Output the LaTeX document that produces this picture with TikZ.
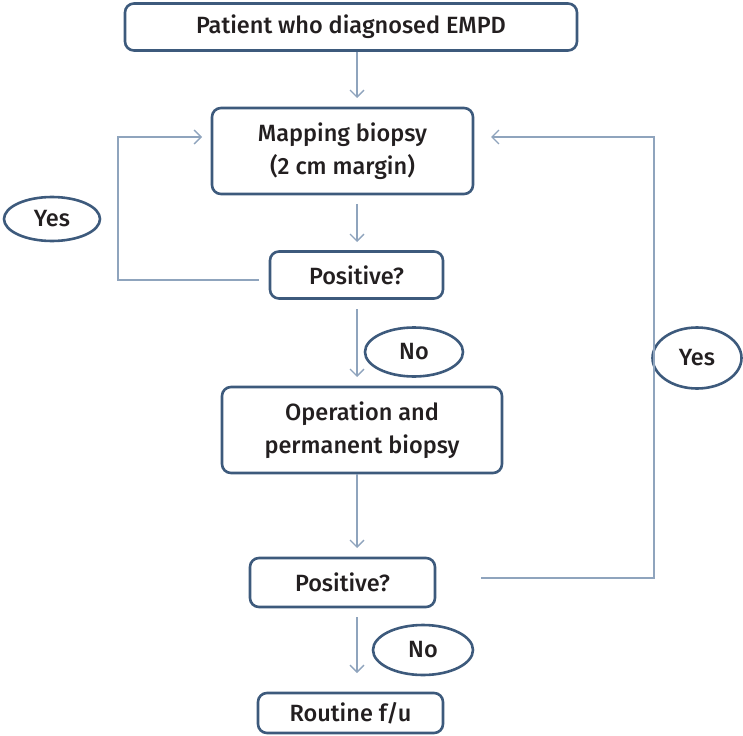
\documentclass[tikz,border=0pt]{standalone}
\usepackage{fontspec}
\setmainfont{Fira Sans}[UprightFont={* Medium}]
\usetikzlibrary{arrows.meta,shapes.geometric}
\definecolor{boxc}{HTML}{3D5A7C}
\definecolor{linec}{HTML}{8FA4BD}
\definecolor{txt}{HTML}{231F20}
\begin{document}
\begin{tikzpicture}[x=1pt,y=-1pt,
  box/.style={draw=boxc,line width=2.6pt,rounded corners=9pt,inner sep=0pt,align=center,font=\fontsize{23.5}{33}\selectfont,text=txt},
  oval/.style={draw=boxc,line width=2.6pt,ellipse,inner sep=0pt,font=\fontsize{23.5}{26}\selectfont,text=txt},
  conn/.style={draw=linec,line width=1.3pt,-{Straight Barb[length=7pt,width=14pt,line width=1.3pt]}},
  line/.style={draw=linec,line width=1.3pt}]
\useasboundingbox (0,0) rectangle (743,735);
\node[box,minimum width=452pt,minimum height=47pt] (top) at (351,27) {Patient who diagnosed EMPD};
\node[box,minimum width=261pt,minimum height=86pt] (map) at (342.5,151) {Mapping biopsy\\(2 cm margin)};
\node[box,minimum width=173pt,minimum height=47pt] (pos1) at (356.5,275) {Positive?};
\node[box,minimum width=280pt,minimum height=86pt] (op) at (362,430) {Operation and\\permanent biopsy};
\node[box,minimum width=185pt,minimum height=49pt] (pos2) at (342.5,582.5) {Positive?};
\node[box,minimum width=185pt,minimum height=40pt] (rout) at (350.5,713) {Routine f/u};
\node[oval,minimum width=96pt,minimum height=44pt] (yes1) at (52,219) {Yes};
\node[oval,minimum width=98pt,minimum height=49pt] (no1) at (414,352) {No};
\node[oval,minimum width=89pt,minimum height=61pt] (yes2) at (697,358) {Yes};
\node[oval,minimum width=100pt,minimum height=50pt] (no2) at (423,650) {No};
% connectors
\coordinate (a1) at (357,52);
\coordinate (a2) at (357,98);
\draw[conn] (a1) -- (a2);
\coordinate (b1) at (357,204);
\coordinate (b2) at (357,242);
\draw[conn] (b1) -- (b2);
\coordinate (c1) at (357,309);
\coordinate (c2) at (357,377);
\draw[conn] (c1) -- (c2);
\coordinate (d1) at (357,474);
\coordinate (d2) at (357,548);
\draw[conn] (d1) -- (d2);
\coordinate (e1) at (357,617);
\coordinate (e2) at (357,673);
\draw[conn] (e1) -- (e2);
% left loop
\coordinate (l1) at (259,280);
\coordinate (l2) at (118,280);
\coordinate (l3) at (118,137);
\coordinate (l4) at (202,137);
\draw[conn] (l1) -- (l2) -- (l3) -- (l4);
% right loop
\coordinate (r1) at (481,578);
\coordinate (r2) at (654,578);
\coordinate (r3) at (654,137);
\coordinate (r4) at (491,137);
\draw[conn] (r1) -- (r2) -- (r3) -- (r4);
\end{tikzpicture}
\end{document}
